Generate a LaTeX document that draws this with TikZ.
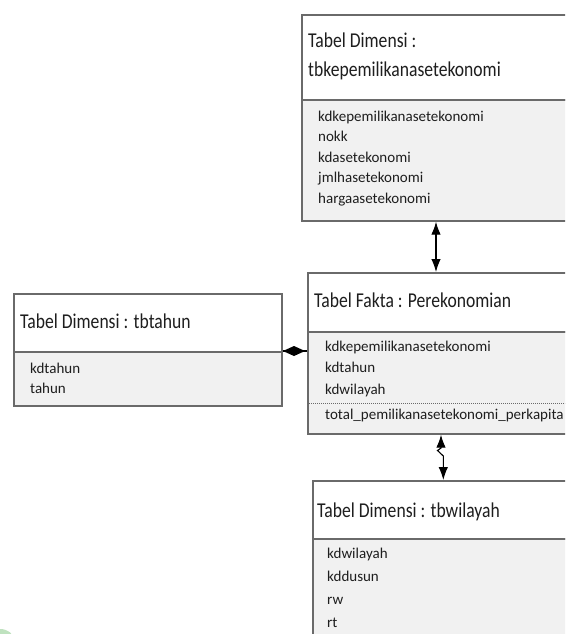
\documentclass[tikz,border=0pt]{standalone}
\usepackage{fontspec}
\setmainfont{Carlito}
\usetikzlibrary{arrows.meta}
\definecolor{frame}{HTML}{6A6A6A}
\definecolor{bodyfill}{HTML}{F1F1F1}
\definecolor{ink}{HTML}{1E1E1E}
\tikzset{
  hdr/.style={draw=frame, line width=1.7pt, fill=white, anchor=north west, inner sep=0pt},
  bdy/.style={draw=frame, line width=1.7pt, fill=bodyfill, anchor=north west, inner sep=0pt},
  ttl/.style={anchor=base west, inner sep=0pt, text=ink, font=\fontsize{17.6}{18}\selectfont, yscale=1.2},
  attr/.style={anchor=base west, inner sep=0pt, text=ink, font=\fontsize{15}{16}\selectfont},
  link/.style={line width=1.1pt, black},
  dbl/.style={link, {Latex[length=13pt,width=9.5pt]}-{Latex[length=13pt,width=9.5pt]}},
}
\begin{document}
\begin{tikzpicture}[x=1pt,y=-1pt]
\useasboundingbox (0,0) rectangle (565,634);
\clip (0,0) rectangle (565,634);
\fill[white] (0,0) rectangle (565,634);

% faint green corner mark
\fill[green!55!black, opacity=0.25] (0,640) ellipse (14 and 11);

% --- dimension table: tbkepemilikanasetekonomi
\node[hdr, minimum width=272pt, minimum height=85pt] (kepH) at (301,14) {};
\node[bdy, minimum width=272pt, minimum height=121pt] (kepB) at (301,99) {};
\node[ttl] (kepT1) at (308,48) {Tabel Dimensi :};
\node[ttl] (kepT2) at (308,77) {tbkepemilikanasetekonomi};
\node[attr] (kepA1) at (318,121) {kdkepemilikanasetekonomi};
\node[attr] (kepA2) at (318,141.5) {nokk};
\node[attr] (kepA3) at (318,162) {kdasetekonomi};
\node[attr] (kepA4) at (318,182.5) {jmlhasetekonomi};
\node[attr] (kepA5) at (318,203) {hargaasetekonomi};

% --- dimension table: tbtahun
\node[hdr, minimum width=268pt, minimum height=58pt] (thnH) at (13,293) {};
\node[bdy, minimum width=268pt, minimum height=54pt] (thnB) at (13,351) {};
\node[ttl] (thnT) at (20,328) {Tabel Dimensi : tbtahun};
\node[attr] (thnA1) at (30,373) {kdtahun};
\node[attr] (thnA2) at (30,393) {tahun};

% --- fact table: Perekonomian
\node[hdr, minimum width=272pt, minimum height=59pt] (fakH) at (307,272) {};
\node[bdy, minimum width=272pt, minimum height=102pt] (fakB) at (307,331) {};
\node[ttl] (fakT) at (314,307) {Tabel Fakta : Perekonomian};
\node[attr] (fakA1) at (325,351) {kdkepemilikanasetekonomi};
\node[attr] (fakA2) at (325,372.5) {kdtahun};
\node[attr] (fakA3) at (325,394) {kdwilayah};
\draw[frame, line width=0.9pt, dash pattern=on 1pt off 1pt] (fakB.west |- 0,403) -- (fakB.east |- 0,403);
\node[attr] (fakA4) at (325,419) {total\_pemilikanasetekonomi\_perkapita};

% --- dimension table: tbwilayah
\node[hdr, minimum width=270pt, minimum height=58pt] (wilH) at (312,480) {};
\node[bdy, minimum width=270pt, minimum height=120pt] (wilB) at (312,538) {};
\node[ttl] (wilT) at (317,517) {Tabel Dimensi : tbwilayah};
\node[attr] (wilA1) at (327,558) {kdwilayah};
\node[attr] (wilA2) at (327,581) {kddusun};
\node[attr] (wilA3) at (327,604) {rw};
\node[attr] (wilA4) at (327,627) {rt};

% --- connectors
\coordinate (kepLink) at (kepB.south west -| 436,0);
\draw[dbl] (kepLink) -- (kepLink |- fakH.north);

\coordinate (fakLink) at (fakB.south west -| 441,0);
\coordinate (wilLink) at (wilH.north west -| 443.3,0);
\draw[dbl] (fakLink) -- (441,448) -- (437.5,450.5) -- (443.3,456) -- (wilLink);

\draw[link] (thnB.north east) -- (thnB.north east -| fakB.west);
\fill[black] (283,351) -- (294,346) -- (305,351) -- (294,356) -- cycle;
\end{tikzpicture}
\end{document}
